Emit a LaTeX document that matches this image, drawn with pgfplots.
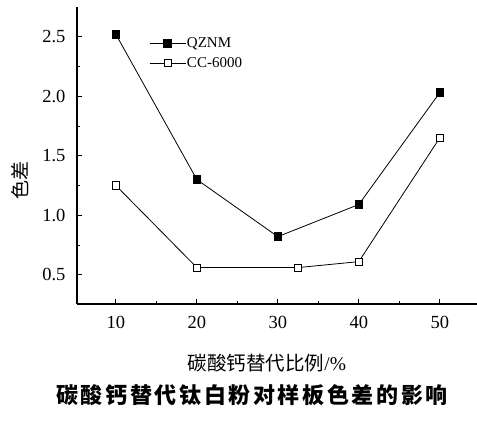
\documentclass[border=0pt]{standalone}
\usepackage{fontspec}
\usepackage{pgfplots}
\pgfplotsset{compat=1.18}
\setmainfont{Liberation Serif}
\newfontfamily\cjk{Noto Sans CJK SC}
\begin{document}
\begin{tikzpicture}[x=1pt,y=1pt]
\useasboundingbox (0,0) rectangle (477,422);
\begin{axis}[
  at={(77pt,118pt)}, anchor=south west,
  scale only axis, width=400pt, height=297pt,
  xmin=5.2, xmax=54.6, ymin=0.254, ymax=2.75,
  axis x line*=bottom, axis y line*=left,
  axis line style={-, line width=1.3pt},
  xtick={10,20,30,40,50}, minor x tick num=1,
  ytick={0.5,1.0,1.5,2.0,2.5}, minor y tick num=1,
  tick align=inside, major tick length=5pt, minor tick length=3pt,
  tick style={line width=0.8pt, black},
  /pgf/number format/assume math mode=true,
  ticklabel style={font=\fontsize{18.5}{20}\selectfont},
  xticklabel style={yshift=-9pt},
  yticklabel style={/pgf/number format/fixed, /pgf/number format/fixed zerofill, /pgf/number format/precision=1, xshift=-8pt},
  legend style={draw=none, fill=none, at={(rel axis cs:0.18,0.90)}, anchor=north west,
    font=\fontsize{15}{16}\selectfont, row sep=6pt, inner sep=0pt,
    nodes={inner sep=1pt}},
  legend cell align=left,
  legend image code/.code={\draw[mark repeat=2,mark phase=2] plot coordinates {(0pt,0pt)(18pt,0pt)(36pt,0pt)};},
  every axis plot/.append style={line width=0.8pt},
]
\addplot[black, mark=square*, mark size=3.8pt, mark options={fill=black}]
  coordinates {(10,2.52) (20,1.30) (30,0.82) (40,1.09) (50,2.03)};
\addlegendentry{QZNM}
\addplot[black, mark=square*, mark size=3.6pt, mark options={fill=white, line width=0.8pt}]
  coordinates {(10,1.25) (20,0.56) (32.5,0.56) (40,0.61) (50,1.65)};
\addlegendentry{CC-6000}
\end{axis}
\node[rotate=90, font=\cjk\fontsize{19}{20}\selectfont] at (20,241) {色差};
\node[font=\fontsize{19.5}{20}\selectfont] at (267,59) {{\cjk 碳酸钙替代比例}/\%};
\node[font=\cjk\bfseries\fontsize{22}{24}\selectfont] at (252,27) {\addfontfeature{LetterSpace=12}碳酸钙替代钛白粉对样板色差的影响};
\end{tikzpicture}
\end{document}
